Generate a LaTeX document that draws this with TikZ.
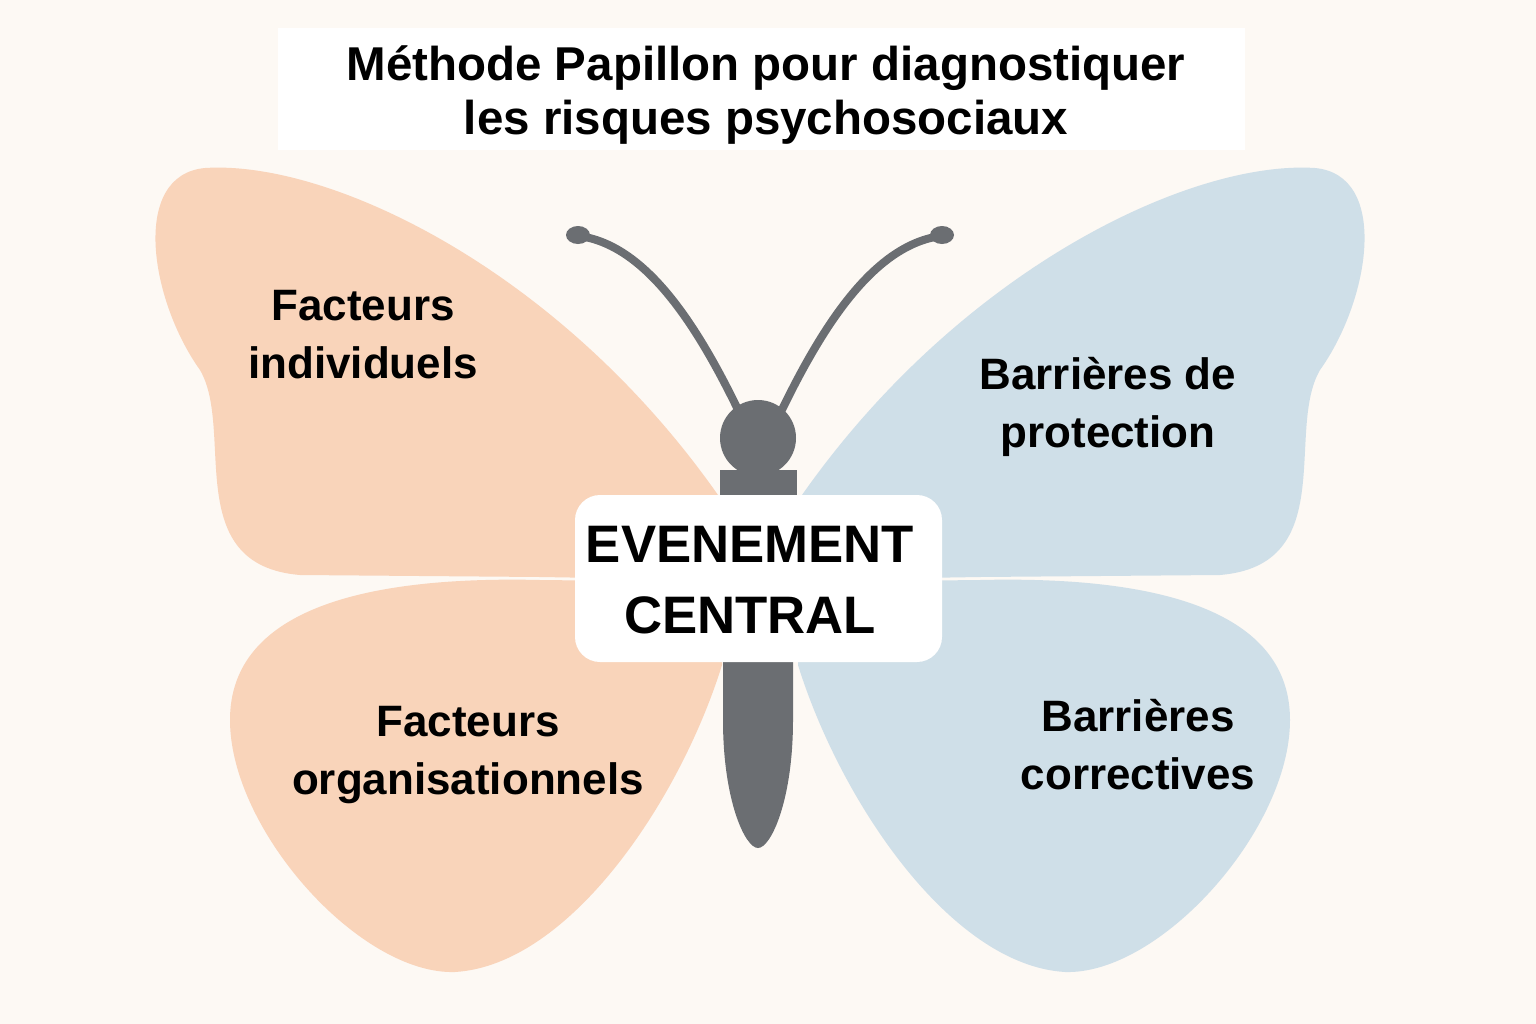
\documentclass[tikz,border=0pt]{standalone}
\usepackage{fontspec}
\setmainfont{Liberation Sans}
\definecolor{bgcol}{HTML}{FDF9F4}
\definecolor{wingorange}{HTML}{F9D4BA}
\definecolor{wingblue}{HTML}{CFDFE8}
\definecolor{bodygray}{HTML}{6B6E72}
\tikzset{
  wing/.style={draw=none},
  label/.style={align=center, font=\fontsize{12.5}{16.5}\selectfont\bfseries},
  antenna/.style={draw=bodygray, line width=0.08cm, line cap=round},
}
\begin{document}
\begin{tikzpicture}[x=0.01cm, y=-0.01cm]
  \useasboundingbox[fill=bgcol] (0,0) rectangle (1536,1024);
  % title
  \fill[white] (278,28) rectangle (1245,150);
  \node[align=center, font=\fontsize{13.5}{15.5}\selectfont\bfseries] (title) at (766,95)
    {Méthode Papillon pour diagnostiquer\\les risques psychosociaux};
  % wings, left side, mirrored for the right side
  \foreach \sx/\col in {0/wingorange, 1520/wingblue}{
    \begin{scope}[xshift=\sx*0.01cm, xscale={\sx==0 ? 1 : -1}]
      \fill[wing, \col] (718,495) .. controls (560,270) and (330,160) .. (205,168)
        .. controls (130,175) and (150,300) .. (200,370)
        .. controls (235,430) and (180,565) .. (300,575) -- (540,577)
        -- (722,580) -- cycle;
      \fill[wing, \col] (540,580) .. controls (330,575) and (230,625) .. (230,720)
        .. controls (230,830) and (360,975) .. (455,972)
        .. controls (570,965) and (680,800) .. (722,665) -- (722,582) -- cycle;
    \end{scope}
  }
  % body
  \fill[bodygray] (720,470) rectangle (797,600);
  \fill[bodygray] (758,438) circle[radius=38];
  \fill[bodygray] (723,640) -- (723,720) .. controls (723,800) and (745,848) .. (758,848)
    .. controls (771,848) and (793,800) .. (793,720) -- (793,640) -- cycle;
  % antennae
  \draw[antenna] (742,418) .. controls (700,330) and (650,250) .. (585,237);
  \fill[bodygray] (578,235) ellipse[x radius=12, y radius=9];
  \draw[antenna] (778,418) .. controls (820,330) and (870,250) .. (935,237);
  \fill[bodygray] (942,235) ellipse[x radius=12, y radius=9];
  % central box
  \fill[white, rounded corners=0.25cm] (575,495) rectangle (942,662);
  \node[align=center, font=\fontsize{15}{20}\selectfont\bfseries] (central) at (750,580)
    {EVENEMENT\\CENTRAL};
  % labels
  \node[label] (indiv) at (363,335) {Facteurs\\individuels};
  \node[label] (orga) at (468,755) {Facteurs\\organisationnels};
  \node[label] (protect) at (1108,407) {Barrières de\\protection};
  \node[label] (correct) at (1138,745) {Barrières\\correctives};
\end{tikzpicture}
\end{document}
